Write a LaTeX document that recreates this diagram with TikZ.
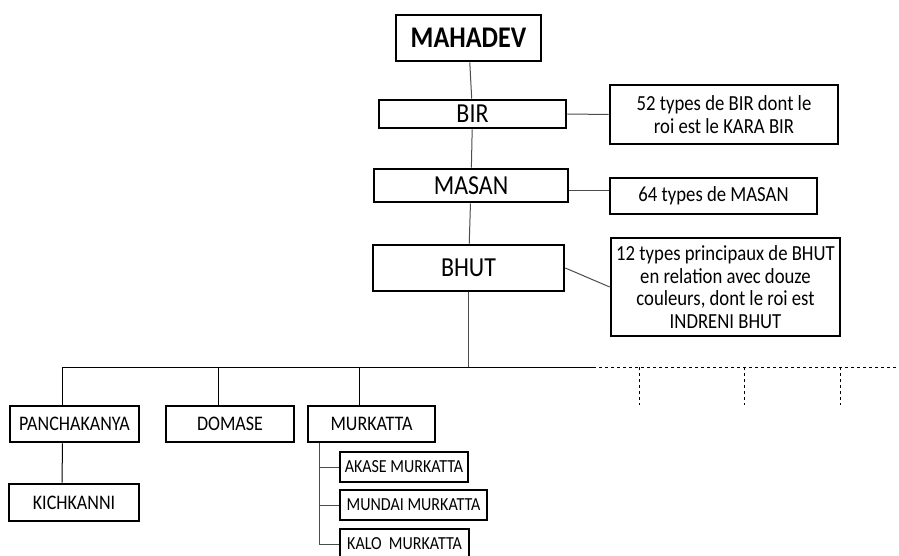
\documentclass[tikz,border=0pt]{standalone}
\usepackage{fontspec}
\setmainfont[FakeStretch=0.87]{Carlito}
\usetikzlibrary{calc}
\tikzset{x=1pt, y=-1pt,
    box/.style={draw=black, line width=2.6pt, inner sep=0pt, align=center,
        font=\fontsize{20.7}{24}\selectfont},
    top/.style={font=\fontsize{30}{34}\selectfont\bfseries},
    level/.style={font=\fontsize{27.5}{31}\selectfont},
    note/.style={font=\fontsize{21.5}{22.5}\selectfont},
    leaf/.style={font=\fontsize{18.4}{21}\selectfont},
    link/.style={draw=black!70, line width=1pt},
    stub/.style={draw=black, line width=0.8pt, dashed}
}
% name, style, left, top, right, bottom, text
\def\Block#1#2#3#4#5#6#7{%
  \pgfmathsetmacro\bw{#5-#3-2}
  \pgfmathsetmacro\bh{#6-#4-2}
  \node[box, #2, minimum width=\bw pt, minimum height=\bh pt] (#1)
    at ({(#3+#5)/2},{(#4+#6)/2}) {#7};
}
\begin{document}
\begin{tikzpicture}
\useasboundingbox (0,0) rectangle (899,556);
\Block{mahadev}{top}{395}{14}{542}{62}{MAHADEV}
\Block{bir}{level}{378}{99}{567}{129}{BIR}
\Block{masan}{level}{373}{168}{569}{203}{MASAN}
\Block{bhut}{level}{372}{244}{565}{292}{BHUT}
\Block{karabir}{note}{609}{84}{839}{145}{52 types de BIR dont le\\roi est le KARA BIR}
\Block{sixtyfour}{note}{609}{177}{818}{215}{64 types de MASAN}
\Block{indreni}{note}{610}{237}{841}{337}{12 types principaux de BHUT\\en relation avec douze\\couleurs, dont le roi est\\INDRENI BHUT}
\Block{pancha}{}{9}{405}{140}{443}{PANCHAKANYA}
\Block{domase}{}{165}{405}{295}{443}{DOMASE}
\Block{murk}{}{307}{405}{436}{443}{MURKATTA}
\Block{kich}{}{8}{483}{140}{522}{KICHKANNI}
\Block{akase}{leaf}{339}{451}{469}{483}{AKASE MURKATTA}
\Block{mundai}{leaf}{339}{489}{488}{521}{MUNDAI MURKATTA}
\Block{kalo}{leaf}{339}{528}{470}{560}{KALO\ \ MURKATTA}

% main line
\draw[link] (mahadev) -- (bir);
\draw[link] (bir) -- (masan);
\draw[link] (masan) -- (bhut);
\draw[link] (bir.east) -- (karabir.west);
\draw[link] (masan.east |- 0,191) -- (sixtyfour.west |- 0,191);
\draw[link] (bhut.east) -- (indreni.west);

% branches
\coordinate (barL) at (62,367);
\coordinate (barM) at (593,367);
\coordinate (barR) at (899,367);
\draw[link] (bhut.south) -- (bhut.south |- barL);
\draw[black, line width=1pt] (barL) -- (barM);
\draw[stub] (barM) -- (barR);
\foreach \n in {pancha,domase,murk}
  \draw[black, line width=1pt] ([xshift=-12pt]\n.north |- barL) -- ([xshift=-12pt]\n.north);
\foreach \x in {639,744,840}
  \draw[stub] (\x,367) -- (\x,405);
\draw[black, line width=1pt] ([xshift=-12pt]pancha.south) -- ([xshift=-12pt]kich.north);

% murkatta
\draw[black!70, line width=1pt] ([xshift=13pt]murk.south west) |- (kalo.west);
\foreach \n in {akase,mundai}
  \draw[black!70, line width=1pt] ([xshift=13pt]murk.south west |- \n.west) -- (\n.west);
\end{tikzpicture}
\end{document}
